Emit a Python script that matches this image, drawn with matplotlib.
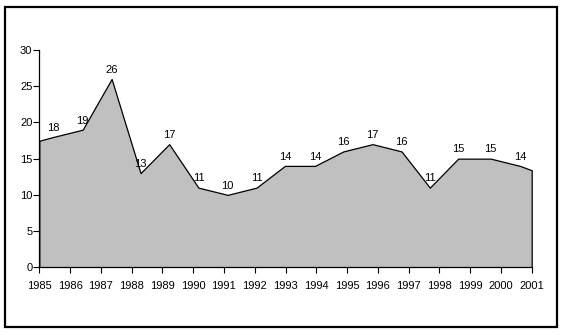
import matplotlib
matplotlib.use("Agg")
import matplotlib.pyplot as plt
from matplotlib.patches import Rectangle
import numpy as np

# Data
years = list(range(1985, 2002))
# measurement dates (fractional years) and values of the labelled points
dates = [1985.46, 1986.41, 1987.35, 1988.29, 1989.22, 1990.17, 1991.12, 1992.06,
         1992.98, 1993.96, 1994.88, 1995.83, 1996.77, 1997.69, 1998.61, 1999.67, 2000.62]
values = [18, 19, 26, 13, 17, 11, 10, 11, 14, 14, 16, 17, 16, 11, 15, 15, 14]
# series values read where the curve meets the plot edges
edge_dates = [1985.0, 2001.0]
edge_values = [17.47, 13.4]
y_ticks = [0, 5, 10, 15, 20, 25, 30]

plt.rcParams['font.family'] = ['Liberation Sans', 'DejaVu Sans']

W, H = 562, 335
fig = plt.figure(figsize=(W / 100, H / 100), dpi=100)

# outer frame
fig.patches.append(Rectangle((5 / W, 1 - 327 / H), (557 - 5) / W, (327 - 6.5) / H,
                             transform=fig.transFigure, fill=False,
                             edgecolor='black', linewidth=1.6, zorder=10))

left, right = 39.3 / W, 531.7 / W
bottom, top = 1 - 267.3 / H, 1 - 50 / H
ax = fig.add_axes([left, bottom, right - left, top - bottom])

xs = [edge_dates[0]] + dates + [edge_dates[1]]
ys = [edge_values[0]] + values + [edge_values[1]]

ax.fill_between(xs, ys, 0, facecolor='#c0c0c0', edgecolor='black', linewidth=0.9)

for d, v in zip(dates, values):
    ax.annotate(str(v), (d, v), xytext=(0, 3), textcoords='offset points',
                ha='center', va='bottom', fontsize=8, color='black')

ax.set_xlim(1985, 2001)
ax.set_ylim(0, 30)
ax.set_xticks(years)
ax.set_xticklabels([str(y) for y in years], fontsize=8)
ax.set_yticks(y_ticks)
ax.set_yticklabels([str(t) for t in y_ticks], fontsize=8)
ax.tick_params(axis='both', direction='out', length=4, width=0.8, color='black')
ax.tick_params(axis='x', pad=6)
ax.tick_params(axis='y', pad=1)
for s in ['top', 'right']:
    ax.spines[s].set_visible(False)
for s in ['left', 'bottom']:
    ax.spines[s].set_linewidth(0.9)
ax.set_facecolor('none')

fig.savefig('out.png', dpi=100)
